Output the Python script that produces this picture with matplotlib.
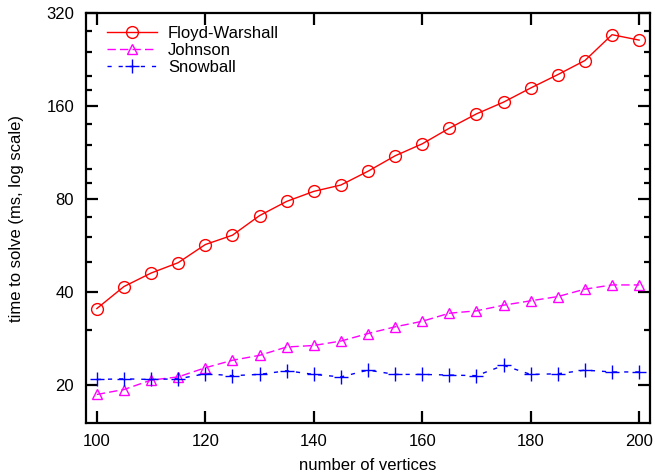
import matplotlib
matplotlib.use("Agg")
import matplotlib.pyplot as plt
from matplotlib.ticker import FixedLocator, NullFormatter

plt.rcParams['font.family'] = ['Liberation Sans', 'DejaVu Sans']

vertices = [100, 105, 110, 115, 120, 125, 130, 135, 140, 145, 150,
            155, 160, 165, 170, 175, 180, 185, 190, 195, 200]
floyd_warshall = [35.3, 41.6, 46.0, 49.7, 56.9, 61.0, 70.6, 78.5, 84.6, 88.7, 98.3,
                  110.3, 120.6, 135.5, 150.8, 164.6, 182.9, 202.1, 224.5, 272.2, 261.4]
johnson = [18.6, 19.3, 20.7, 21.2, 22.7, 24.0, 24.9, 26.5, 26.8, 27.7, 29.3,
           30.8, 32.1, 34.1, 34.7, 36.2, 37.4, 38.6, 40.8, 42.1, 42.1]
snowball = [20.8, 20.9, 20.8, 20.9, 21.7, 21.4, 21.6, 22.2, 21.6, 21.2, 22.3,
            21.6, 21.6, 21.5, 21.4, 23.1, 21.6, 21.7, 22.3, 22.0, 22.0]

x_ticks = [100, 120, 140, 160, 180, 200]
y_ticks = [20, 40, 80, 160, 320]
y_minor = [30, 50, 60, 70, 90, 100, 120, 140, 180, 200, 240, 280]

FS = 12

fig = plt.figure(figsize=(6.55, 4.74), dpi=100)
ax = fig.add_axes([86 / 655, 1 - 423.3 / 474, (650 - 86) / 655, (423.3 - 13) / 474])

ax.plot(vertices, floyd_warshall, color='#ff0000', lw=1.0, marker='o', ms=8.5,
        mfc='none', mec='#ff0000', mew=1.0, label='Floyd-Warshall')
ax.plot(vertices, johnson, color='#ff00ff', lw=1.0, ls=(0, (6, 3)), marker='^', ms=7.5,
        mfc='none', mec='#ff00ff', mew=1.0, label='Johnson')
ax.plot(vertices, snowball, color='#0000ff', lw=1.0, ls=(0, (3, 5)), marker='+', ms=10,
        mec='#0000ff', mew=1.0, label='Snowball')

ax.set_yscale('log', base=2)
ax.set_xlim(98, 202)
ax.set_ylim(15, 320)
ax.xaxis.set_major_locator(FixedLocator(x_ticks))
ax.xaxis.set_minor_locator(FixedLocator([]))
ax.yaxis.set_major_locator(FixedLocator(y_ticks))
ax.yaxis.set_minor_locator(FixedLocator(y_minor))
ax.yaxis.set_minor_formatter(NullFormatter())
ax.set_yticklabels([str(v) for v in y_ticks])
ax.set_xticklabels([str(v) for v in x_ticks])

for s in ax.spines.values():
    s.set_linewidth(1.6)
ax.tick_params(which='both', direction='in', top=True, right=True, width=1.6,
               labelsize=FS)
ax.tick_params(which='major', length=8.5)
ax.tick_params(which='minor', length=4.3)
ax.tick_params(axis='y', which='major', pad=8.5)
ax.tick_params(axis='x', which='major', pad=7.5)

ax.set_xlabel('number of vertices', fontsize=FS, labelpad=7)
ax.set_ylabel('time to solve (ms, log scale)', fontsize=FS, labelpad=16)

ax.legend(loc='upper left', frameon=False, fontsize=FS, handlelength=3.0,
          handletextpad=0.65, labelspacing=0.12, borderpad=0.0,
          borderaxespad=0.0, bbox_to_anchor=(21 / 564, 1 - 13 / 410.3))

fig.savefig('out.png', dpi=100)
